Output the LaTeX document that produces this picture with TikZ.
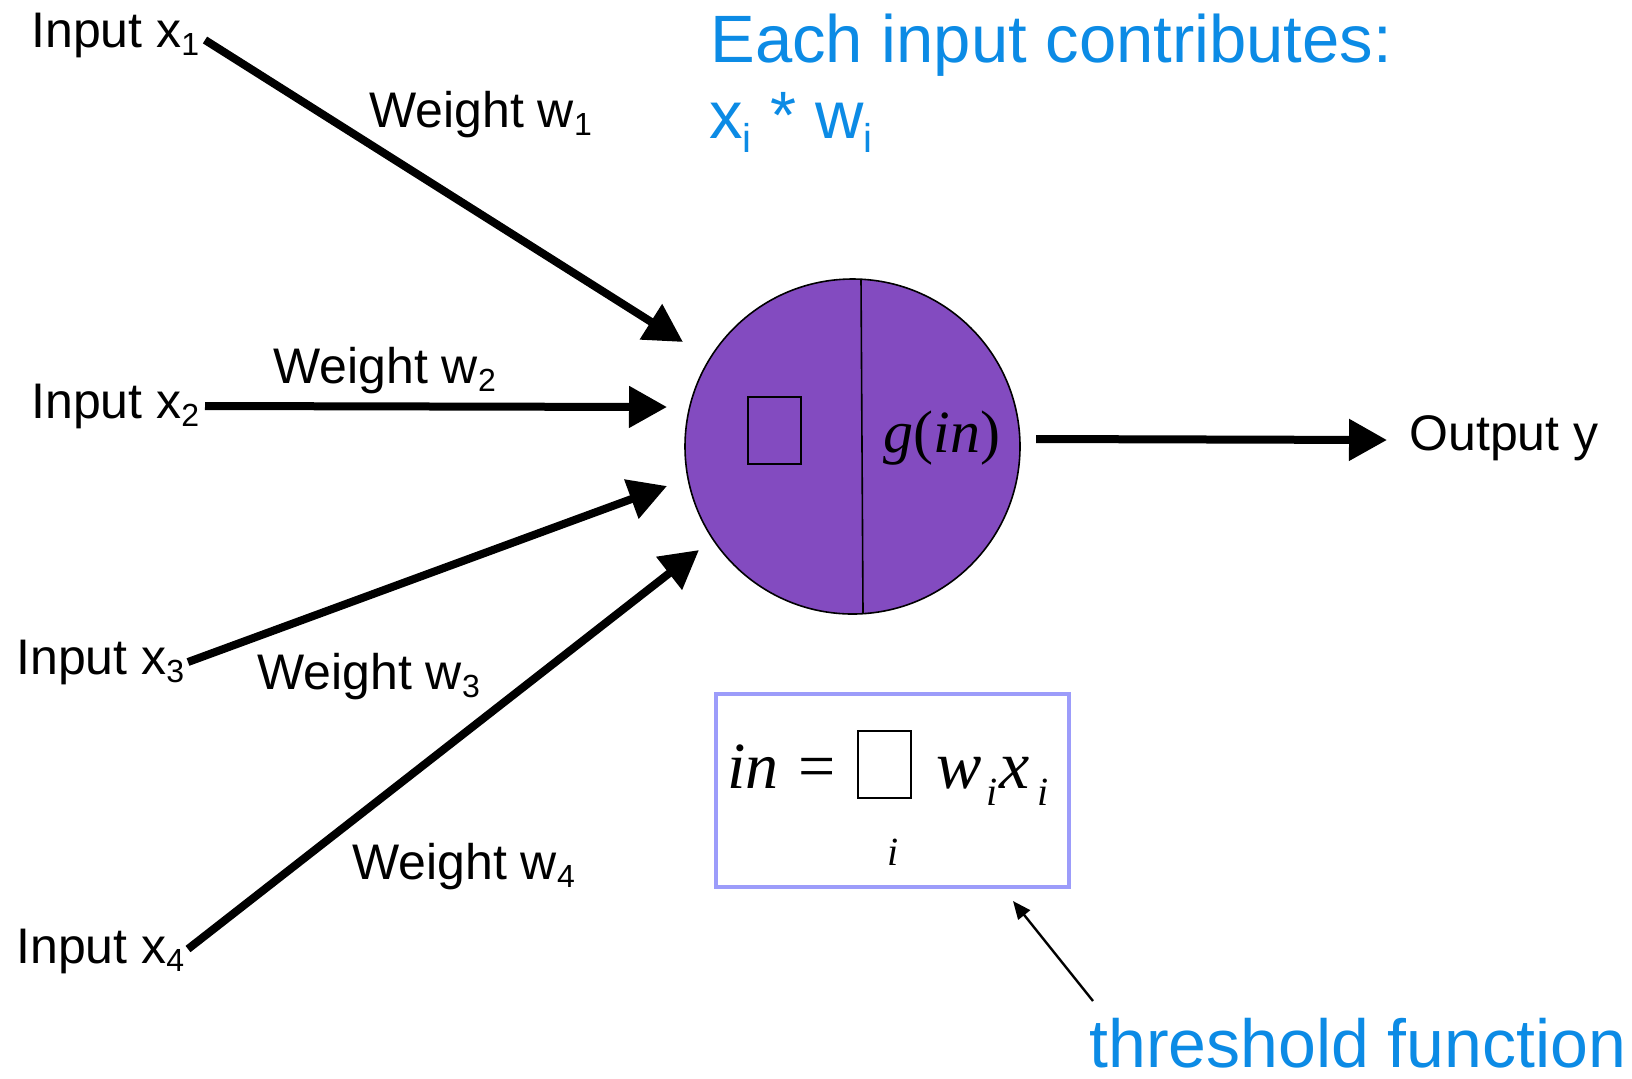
\documentclass[tikz,border=0pt]{standalone}
\usepackage{fontspec}
\usepackage{graphicx}
\setmainfont{Liberation Sans}
\newfontfamily\tms{Liberation Serif}
\usetikzlibrary{arrows.meta}
\definecolor{neuron}{RGB}{131,75,192}
\definecolor{boxblue}{RGB}{156,156,250}
\definecolor{txtblue}{RGB}{12,139,229}
\newcommand\lsub[1]{\raisebox{-0.17em}{\scalebox{0.64}{#1}}}
\begin{document}
\begin{tikzpicture}[x=0.5pt,y=-0.5pt,
  lbl/.style={anchor=base west,inner sep=0pt,font=\fontsize{25pt}{30pt}\selectfont},
  bluelbl/.style={anchor=base west,inner sep=0pt,text=txtblue,font=\fontsize{33.5pt}{40pt}\selectfont},
  mathbig/.style={anchor=base west,inner sep=0pt,font=\fontsize{34pt}{40pt}\selectfont\tms\itshape},
  mathsmall/.style={anchor=base west,inner sep=0pt,font=\fontsize{20pt}{24pt}\selectfont\tms\itshape},
  wire/.style={line width=4pt,-{Triangle[length=19pt,width=20pt]}},
  thinwire/.style={line width=1.2pt,-{Triangle[length=9pt,width=7.5pt]}},
  thin line/.style={line width=0.8pt}]
\useasboundingbox (0,0) rectangle (1632,1078);

% neuron
\node[circle,draw,thin line,fill=neuron,minimum size=167.5pt,inner sep=0pt] (neuron) at (852.5,446.5) {};
\coordinate (ntop) at (861,279);
\coordinate (nbot) at (863,613);
\draw[thin line] (ntop) -- (nbot);
\draw[thin line] (748,397) rectangle (801,464);
\node[anchor=base west,inner sep=0pt,font=\fontsize{30pt}{36pt}\selectfont\tms] (gin) at (883,452) {\itshape g\upshape(\itshape in\upshape)};

% inputs
\node[lbl] (in1) at (31,47) {Input x\lsub{1}};
\node[lbl] (in2) at (31,418) {Input x\lsub{2}};
\node[lbl] (in3) at (16,674) {Input x\lsub{3}};
\node[lbl] (in4) at (16,963) {Input x\lsub{4}};
\node[lbl] (out) at (1409,450) {Output y};

\node[lbl] (w1) at (369,127) {Weight w\lsub{1}};
\node[lbl] (w2) at (273,383) {Weight w\lsub{2}};
\node[lbl] (w3) at (257,689) {Weight w\lsub{3}};
\node[lbl] (w4) at (352,879) {Weight w\lsub{4}};

\coordinate (s1) at (205,40);
\coordinate (t1) at (683,342);
\coordinate (s2) at (205,406);
\coordinate (t2) at (667,407);
\coordinate (s3) at (188,662);
\coordinate (t3) at (667,486);
\coordinate (s4) at (188,949);
\coordinate (t4) at (699,550);
\coordinate (so) at (1036,439);
\coordinate (to) at (1387,440);

\draw[wire] (s1) -- (t1);
\draw[wire] (s2) -- (t2);
\draw[wire] (s3) -- (t3);
\draw[wire] (s4) -- (t4);
\draw[wire] (so) -- (to);

% formula box
\node[draw=boxblue,line width=2pt,minimum width=176.5pt,minimum height=96.5pt,inner sep=0pt] (fbox) at (892.5,790.5) {};
\node[mathbig,font=\fontsize{33pt}{40pt}\selectfont\tms\itshape] (fin) at (727,788) {in};
\node[mathbig,font=\fontsize{33pt}{40pt}\selectfont\tms] (feq) at (798,788) {=};
\draw[thin line] (858,731) rectangle (911,798);
\node[mathbig] (fw) at (936,788) {w};
\node[mathsmall] (fwi) at (986,805) {i};
\node[mathbig] (fx) at (999,788) {x};
\node[mathsmall] (fxi) at (1037,805) {i};
\node[mathsmall] (fi) at (887,865) {i};

% blue texts
\node[bluelbl] (each) at (710,62) {Each input contributes:};
\node[bluelbl] (xw) at (709,138) {x\raisebox{-0.21em}{\scalebox{0.6}{i}} * w\raisebox{-0.21em}{\scalebox{0.6}{i}}};
\node[bluelbl,font=\fontsize{34pt}{40pt}\selectfont] (thr) at (1089,1067) {threshold function};

\coordinate (ttail) at (1093,1001);
\coordinate (ttip) at (1013,901);
\draw[thinwire] (ttail) -- (ttip);
\end{tikzpicture}
\end{document}
